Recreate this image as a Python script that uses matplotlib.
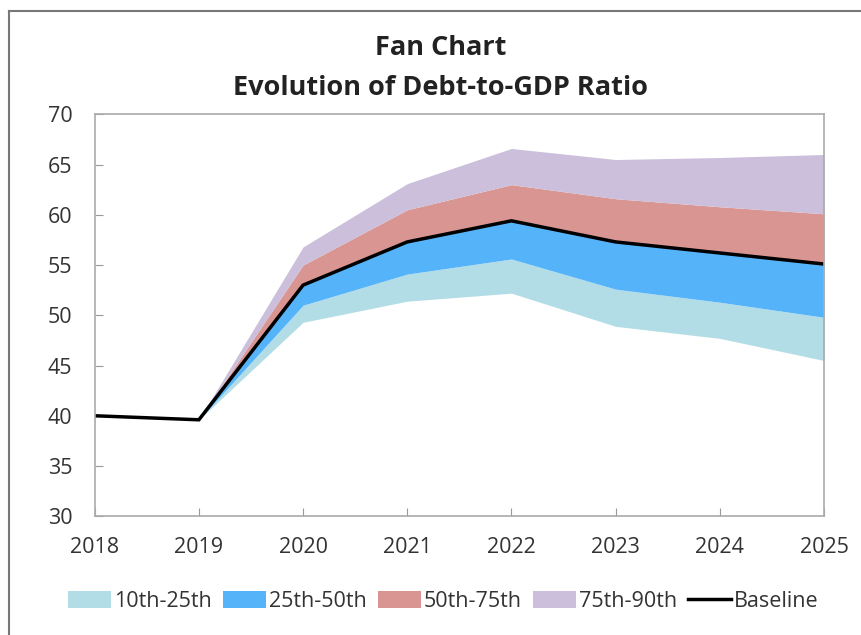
import matplotlib
matplotlib.use("Agg")
import matplotlib.pyplot as plt
from matplotlib.patches import Patch
from matplotlib.lines import Line2D

plt.rcParams['font.family'] = ['Open Sans', 'DejaVu Sans']

years = [2018, 2019, 2020, 2021, 2022, 2023, 2024, 2025]
baseline = [40.0, 39.6, 53.0, 57.3, 59.4, 57.3, 56.2, 55.1]
p10 = [40.0, 39.6, 49.3, 51.4, 52.2, 48.9, 47.7, 45.5]
p25 = [40.0, 39.6, 51.0, 54.1, 55.6, 52.6, 51.3, 49.8]
p75 = [40.0, 39.6, 55.0, 60.5, 63.0, 61.6, 60.8, 60.1]
p90 = [40.0, 39.6, 56.8, 63.1, 66.6, 65.5, 65.7, 66.0]

band_labels = ['10th-25th', '25th-50th', '50th-75th', '75th-90th']
band_colors = ['#b3dde6', '#55b3fa', '#d99592', '#cbbfdb']
line_label = 'Baseline'

fig = plt.figure(figsize=(8.61, 6.35), dpi=100)
ax = fig.add_axes([0.110, 0.187, 0.847, 0.633])

lows = [p10, p25, baseline, p75]
highs = [p25, baseline, p75, p90]
for lo, hi, c in zip(lows, highs, band_colors):
    ax.fill_between(years, lo, hi, color=c, linewidth=0)
ax.plot(years, baseline, color='black', linewidth=2.5, solid_joinstyle='miter')

ax.set_xlim(2018, 2025)
ax.set_ylim(30, 70)
ax.set_xticks(years)
ax.set_yticks(range(30, 71, 5))
ax.tick_params(direction='in', length=6, color='#999999', labelsize=15.5,
               labelcolor='#333333')
ax.tick_params(axis='y', pad=16)
ax.tick_params(axis='x', pad=15)
for s in ax.spines.values():
    s.set_color('#aaaaaa')
    s.set_linewidth(1.2)

fig.text(0.512, 0.924, 'Fan Chart', ha='center', va='center',
         fontsize=19.5, fontweight='bold', color='#222222')
fig.text(0.512, 0.861, 'Evolution of Debt-to-GDP Ratio', ha='center', va='center',
         fontsize=19.5, fontweight='bold', color='#222222')

handles = [Patch(facecolor=c, edgecolor='none') for c in band_colors]
handles.append(Line2D([0], [0], color='black', linewidth=2.5))
fig.legend(handles, band_labels + [line_label], loc='center',
           bbox_to_anchor=(0.515, 0.053), ncol=5, frameon=False,
           fontsize=15.5, handlelength=2.0, handleheight=0.8,
           handletextpad=0.15, columnspacing=0.5, labelcolor='#333333')

# outer frame (left and top edges visible in the reference)
fig.add_artist(Line2D([0.010, 0.010], [0.0, 0.983], color='#777777', linewidth=1.5,
                      transform=fig.transFigure))
fig.add_artist(Line2D([0.010, 1.0], [0.983, 0.983], color='#777777', linewidth=1.5,
                      transform=fig.transFigure))

fig.savefig('out.png', dpi=100)
